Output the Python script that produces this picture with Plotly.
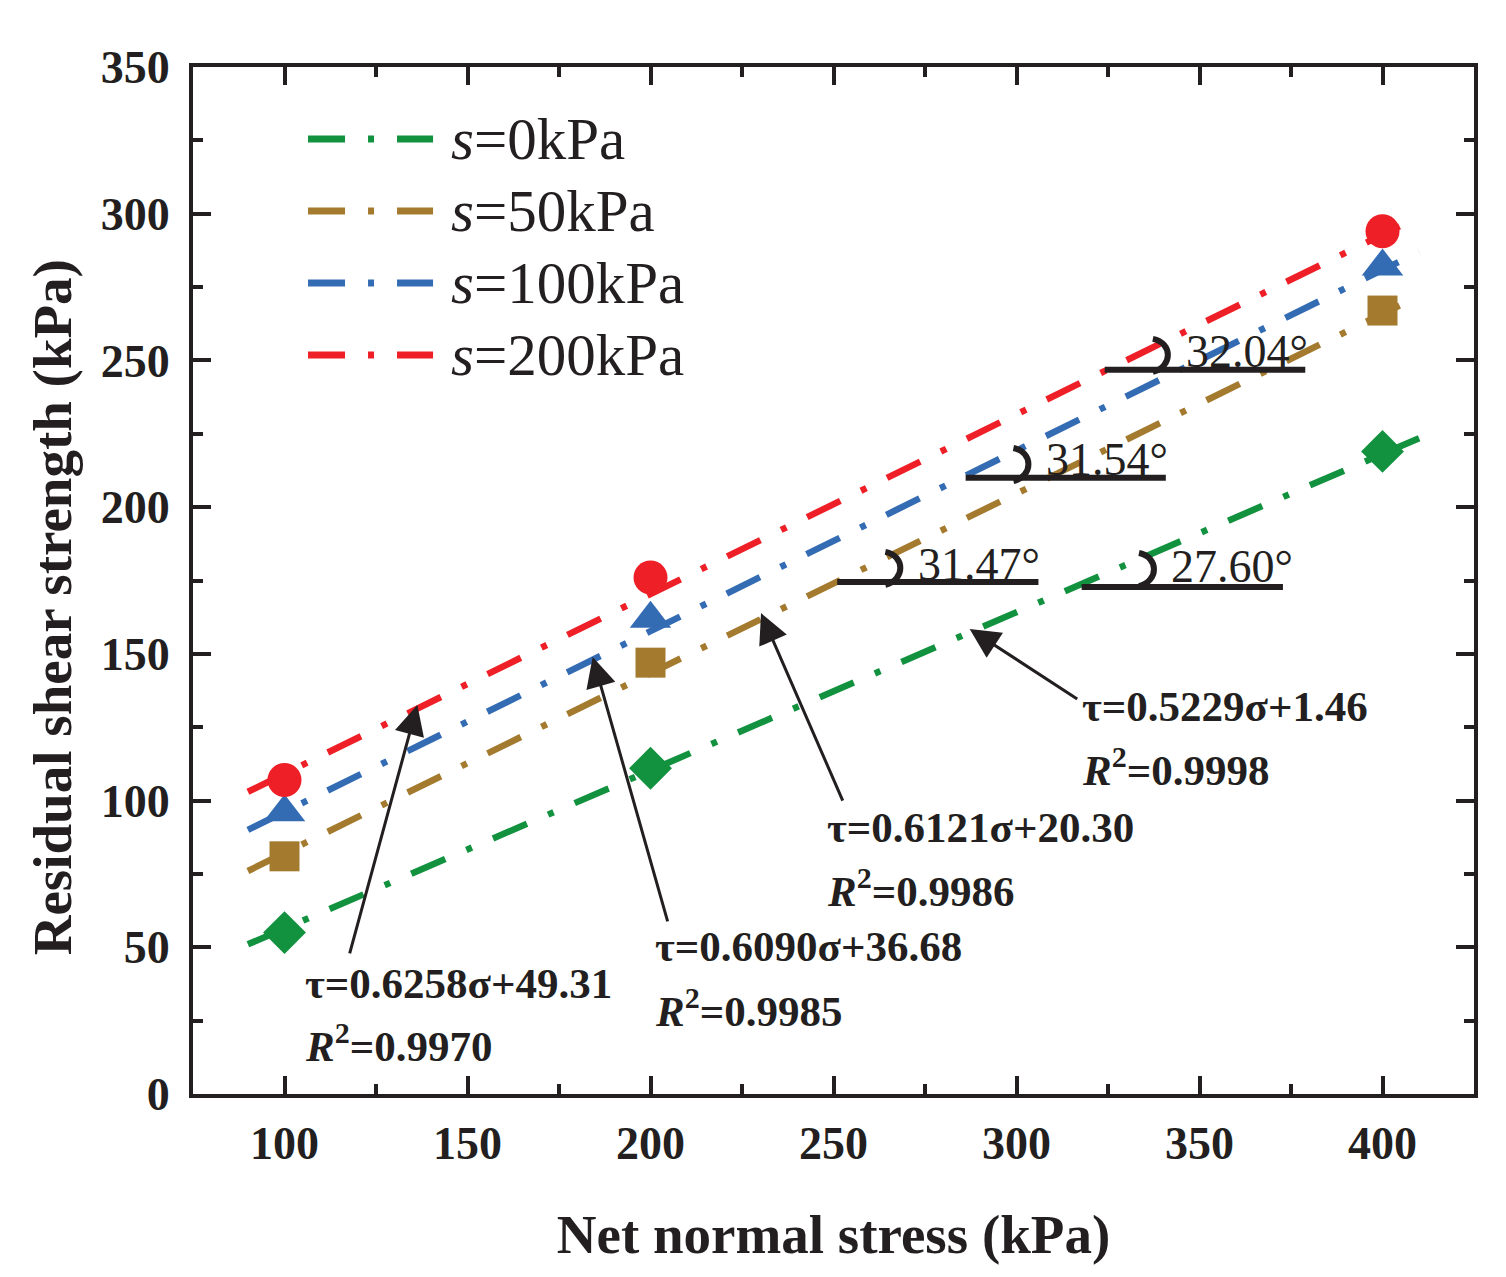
import plotly.graph_objects as go

stress = [100, 200, 400]
tau_s0 = [55, 111, 219]
tau_s50 = [81, 147, 267]
tau_s100 = [96, 162, 282]
tau_s200 = [107, 176, 294]

# fitted lines, end points as drawn
fit_x = [90, 410]
fit_s0 = [51, 223.5]
fit_s50 = [76, 272]
fit_s100 = [90, 287]
fit_s200 = [103, 299]

series_names = ["s=0kPa", "s=50kPa", "s=100kPa", "s=200kPa"]
legend_labels = ["<i>s</i>=0kPa", "<i>s</i>=50kPa", "<i>s</i>=100kPa", "<i>s</i>=200kPa"]
colors = ["#12923F", "#A37A2E", "#346CB4", "#EE1F26"]
symbols = ["diamond", "square", "triangle-up", "circle"]
msizes = [33, 30, 36, 34]

equations = ["τ=0.5229σ+1.46", "τ=0.6121σ+20.30", "τ=0.6090σ+36.68", "τ=0.6258σ+49.31"]
r2_values = ["0.9998", "0.9986", "0.9985", "0.9970"]
angles = ["27.60°", "31.47°", "31.54°", "32.04°"]

INK = "#231F20"
FONT = "Liberation Serif"
DASH = "37px,23px,6px,23px"

fig = go.Figure()

points = [tau_s0, tau_s50, tau_s100, tau_s200]
fits = [fit_s0, fit_s50, fit_s100, fit_s200]

for i in range(4):
    fig.add_trace(go.Scatter(x=fit_x, y=fits[i], mode="lines", name=series_names[i],
                             line=dict(color=colors[i], width=6.5, dash=DASH),
                             showlegend=False))
for i in range(4):
    fig.add_trace(go.Scatter(x=stress, y=points[i], mode="markers", name=series_names[i],
                             marker=dict(symbol=symbols[i], size=msizes[i], color=colors[i],
                                         line=dict(width=0)),
                             showlegend=False))

# hand-made legend (long dash-dot samples)
leg_y = [0.9299, 0.8598, 0.7897, 0.7196]
for i in range(4):
    fig.add_shape(type="line", xref="paper", yref="paper", x0=0.0898, x1=0.1874,
                  y0=leg_y[i], y1=leg_y[i], line=dict(color=colors[i], width=7, dash=DASH))
    fig.add_annotation(xref="paper", yref="paper", x=0.200, y=leg_y[i], text=legend_labels[i],
                       showarrow=False, xanchor="left", yanchor="middle",
                       font=dict(family=FONT, size=59, color=INK))

# angle marks: horizontal reference bars, arcs and labels
bar_x0 = [317.8, 251.0, 286.1, 324.1]
bar_x1 = [372.8, 306.0, 340.8, 378.9]
bar_y = [172.8, 174.5, 210.0, 246.8]
arc_x = [335.1, 265.8, 300.8, 338.9]
arc_y = [178.9, 179.3, 214.7, 251.9]
lab_x = [341.6, 272.6, 307.4, 345.7]
lab_y = [179.9, 180.6, 216.4, 252.9]
for i in range(4):
    fig.add_shape(type="line", x0=bar_x0[i], x1=bar_x1[i], y0=bar_y[i], y1=bar_y[i],
                  line=dict(color=INK, width=6))
    fig.add_shape(type="path", xsizemode="pixel", ysizemode="pixel",
                  xanchor=arc_x[i], yanchor=arc_y[i],
                  path="M -6,16 C 14,12 14,-12 -6,-17",
                  line=dict(color=INK, width=6))
    fig.add_annotation(x=lab_x[i], y=lab_y[i], text=angles[i], showarrow=False,
                       xanchor="left", yanchor="middle",
                       font=dict(family=FONT, size=46, color=INK))

# equation labels with arrows
head_x = [287.2, 230.2, 184.2, 136.3]
head_y = [158.5, 163.9, 148.9, 132.6]
tail_x = [317.0, 252.7, 204.8, 117.7]
tail_y = [134.3, 99.5, 58.3, 47.4]
eq_x = [317.3, 247.7, 200.6, 105.1]
eq_y = [131.9, 90.7, 50.4, 37.8]
r2_y = [111.5, 70.2, 29.3, 17.4]
for i in range(4):
    fig.add_annotation(x=head_x[i], y=head_y[i], ax=tail_x[i], ay=tail_y[i],
                       axref="x", ayref="y", text="", showarrow=True,
                       arrowhead=2, arrowsize=2, arrowwidth=3, arrowcolor=INK, standoff=0)
    fig.add_annotation(x=eq_x[i], y=eq_y[i], text=equations[i], showarrow=False,
                       xanchor="left", yanchor="middle",
                       font=dict(family=FONT, size=43, color=INK, weight="bold"))
    fig.add_annotation(x=eq_x[i], y=r2_y[i], text="<i>R</i><sup>2</sup>=" + r2_values[i],
                       showarrow=False, xanchor="left", yanchor="middle",
                       font=dict(family=FONT, size=43, color=INK, weight="bold"))

# y title sits a little below the plot centre in the original
fig.add_annotation(xref="paper", yref="paper", x=-0.110, y=0.474,
                   text="Residual shear strength (kPa)", textangle=-90, showarrow=False,
                   xanchor="center", yanchor="middle",
                   font=dict(family=FONT, size=55, color=INK, weight="bold"))

axis_common = dict(
    showline=True, linewidth=4, linecolor=INK, mirror="ticks",
    ticks="inside", ticklen=18, tickwidth=4, tickcolor=INK,
    showgrid=False, zeroline=False,
    tickfont=dict(family=FONT, size=46, color=INK, weight="bold"),
    minor=dict(ticks="inside", ticklen=10, tickwidth=4, tickcolor=INK, dtick=25),
)

fig.update_xaxes(range=[75, 425], tickvals=[100, 150, 200, 250, 300, 350, 400],
                 ticklabelstandoff=6,
                 title=dict(text="Net normal stress (kPa)", standoff=47,
                            font=dict(family=FONT, size=55, color=INK, weight="bold")),
                 **axis_common)
fig.update_yaxes(range=[0, 350], dtick=50, tick0=0,
                 ticklabelstandoff=10,
                 **axis_common)

# page body adds an 8px margin, so the figure is 16px smaller than the window
fig.update_layout(width=1490, height=1261,
                  margin=dict(l=185, r=24, t=59, b=175),
                  plot_bgcolor="white", paper_bgcolor="white",
                  font=dict(family=FONT, color=INK),
                  showlegend=False)

fig.write_html("out.html")
